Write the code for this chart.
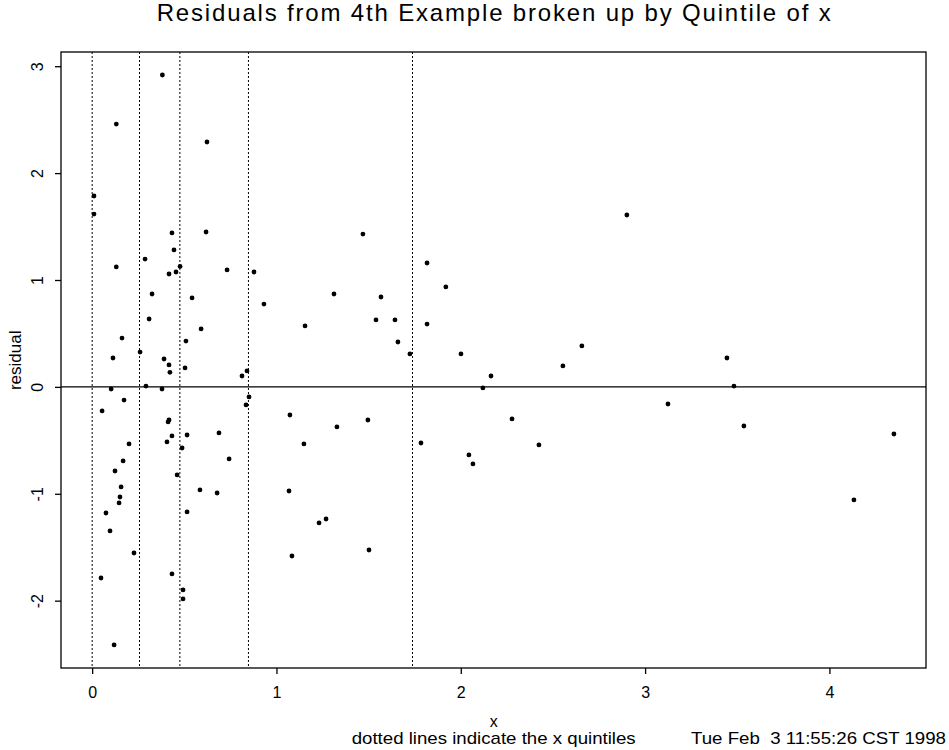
<!DOCTYPE html>
<html>
<head>
<meta charset="utf-8">
<script src="https://cdn.jsdelivr.net/npm/d3@7"></script>
<style>
  body { margin: 0; background: #fff; }
  text { font-family: 'Liberation Sans', Arial, Helvetica, sans-serif; fill: #000; }
</style>
</head>
<body>
<div id="chart-1"></div>
<script>
// x value of each point
let xValues = [
  0.381, 0.131, 0.623, 0.010, 0.010, 0.433, 0.618, 0.444, 0.287, 0.131,
  0.477, 0.455, 0.417, 0.732, 0.878, 0.325, 0.542, 0.309, 0.591, 0.162,
  0.509, 0.260, 0.113, 0.390, 0.417, 0.504, 0.422, 0.813, 0.840, 0.103,
  0.292, 0.379, 0.851, 0.173, 0.835, 0.054, 0.417, 0.412, 0.433, 0.515,
  0.688, 0.200, 0.406, 0.488, 0.168, 0.743, 0.124, 0.461, 0.157, 0.585,
  0.678, 0.151, 0.146, 0.075, 0.515, 0.097, 0.227, 0.048, 0.433, 0.493,
  0.493, 0.119, 1.469, 1.817, 1.919, 1.312, 1.567, 0.932, 1.155, 1.540,
  1.643, 1.817, 1.659, 1.724, 2.001, 1.073, 1.496, 1.328, 1.149, 1.784,
  2.044, 2.066, 1.068, 1.231, 1.269, 1.084, 1.502, 2.901, 2.657, 2.554,
  2.164, 2.120, 2.278, 2.424, 3.124, 3.444, 3.482, 3.536, 4.133, 4.350
]

// matching residuals
let residuals = [
  2.918, 2.459, 2.291, 1.786, 1.617, 1.440, 1.449, 1.281, 1.196, 1.122,
  1.127, 1.075, 1.056, 1.094, 1.075, 0.869, 0.832, 0.635, 0.542, 0.457,
  0.429, 0.326, 0.270, 0.261, 0.205, 0.177, 0.136, 0.102, 0.149, -0.020,
  0.008, -0.020, -0.094, -0.123, -0.169, -0.225, -0.310, -0.328, -0.459, -0.450,
  -0.431, -0.534, -0.515, -0.572, -0.693, -0.674, -0.787, -0.824, -0.936, -0.964,
  -0.993, -1.030, -1.086, -1.180, -1.170, -1.348, -1.554, -1.788, -1.750, -1.900,
  -1.984, -2.414, 1.430, 1.159, 0.935, 0.869, 0.841, 0.775, 0.570, 0.626,
  0.626, 0.588, 0.420, 0.308, 0.308, -0.263, -0.310, -0.375, -0.534, -0.525,
  -0.637, -0.721, -0.974, -1.273, -1.236, -1.582, -1.526, 1.608, 0.383, 0.196,
  0.102, -0.010, -0.300, -0.543, -0.160, 0.270, 0.008, -0.366, -1.058, -0.441
]

let quintiles = [0.0, 0.257, 0.476, 0.848, 1.738]
let xTicks = [0, 1, 2, 3, 4]
let yTicks = [-2, -1, 0, 1, 2, 3]

let titleText = 'Residuals from 4th Example broken up by Quintile of x'
let xLabel = 'x'
let yLabel = 'residual'
let footNote = 'dotted lines indicate the x quintiles'
let stamp = 'Tue Feb  3 11:55:26 CST 1998'

let margin = { top: 52, left: 61, right: 23, bottom: 82 }

let height = 750 - margin.top - margin.bottom
let width = 949 - margin.left - margin.right

let root = d3
  .select('#chart-1')
  .append('svg')
  .attr('height', height + margin.top + margin.bottom)
  .attr('width', width + margin.left + margin.right)

let svg = root
  .append('g')
  .attr('transform', 'translate(' + margin.left + ',' + margin.top + ')')

var xPositionScale = d3
  .scaleLinear()
  .range([0, width])
  .domain([-0.169, 4.524])
var yPositionScale = d3
  .scaleLinear()
  .range([height, 0])
  .domain([-2.63, 3.133])

let datapoints = xValues.map((x, i) => ({ x: x, residual: residuals[i] }))

// box round the plot
svg
  .append('rect')
  .attr('width', width)
  .attr('height', height)
  .attr('fill', 'none')
  .attr('stroke', '#000')
  .attr('stroke-width', 1.3)

// quintile lines
svg
  .selectAll('.quintile')
  .data(quintiles)
  .enter()
  .append('line')
  .attr('class', 'quintile')
  .attr('x1', d => xPositionScale(d))
  .attr('x2', d => xPositionScale(d))
  .attr('y1', 0)
  .attr('y2', height)
  .attr('stroke', '#000')
  .attr('stroke-width', 1)
  .attr('stroke-dasharray', '2,2')

// zero line
svg
  .append('line')
  .attr('x1', 0)
  .attr('x2', width)
  .attr('y1', yPositionScale(0))
  .attr('y2', yPositionScale(0))
  .attr('stroke', '#000')
  .attr('stroke-width', 1.3)

svg
  .selectAll('circle')
  .data(datapoints)
  .enter()
  .append('circle')
  .attr('r', 2.4)
  .attr('fill', '#000')
  .attr('cx', d => xPositionScale(d.x))
  .attr('cy', d => yPositionScale(d.residual))

// axes (plain hyphen for negatives, like the original)
let xAxis = d3
  .axisBottom(xPositionScale)
  .tickValues(xTicks)
  .tickSize(6)
  .tickFormat(d => String(d))
let xg = svg
  .append('g')
  .attr('transform', 'translate(0,' + height + ')')
  .call(xAxis)
xg.select('.domain').remove()
xg.selectAll('line').attr('stroke-width', 1.3)
xg.selectAll('text')
  .attr('y', 30)
  .attr('dy', null)
  .attr('font-size', 16)
  .style('font-family', "'Liberation Sans', Arial, sans-serif")

let yAxis = d3
  .axisLeft(yPositionScale)
  .tickValues(yTicks)
  .tickSize(6)
  .tickFormat(d => String(d))
let yg = svg.append('g').call(yAxis)
yg.select('.domain').remove()
yg.selectAll('line').attr('stroke-width', 1.3)
yg.selectAll('text')
  .attr('x', null)
  .attr('dy', null)
  .attr('text-anchor', 'middle')
  .attr('transform', 'translate(-17.7,0) rotate(-90)')
  .attr('font-size', 16)
  .style('font-family', "'Liberation Sans', Arial, sans-serif")

// titles
root
  .append('text')
  .attr('x', 493.7)
  .attr('y', 20.5)
  .attr('text-anchor', 'middle')
  .attr('font-size', 24)
  .attr('textLength', 674)
  .attr('lengthAdjust', 'spacing')
  .text(titleText)

root
  .append('text')
  .attr('x', 493.7)
  .attr('y', 727)
  .attr('text-anchor', 'middle')
  .attr('font-size', 16)
  .text(xLabel)

root
  .append('text')
  .attr('transform', 'translate(20.5,360.3) rotate(-90)')
  .attr('text-anchor', 'middle')
  .attr('font-size', 17)
  .text(yLabel)

root
  .append('text')
  .attr('x', 493.7)
  .attr('y', 744)
  .attr('text-anchor', 'middle')
  .attr('font-size', 17)
  .attr('textLength', 284)
  .attr('lengthAdjust', 'spacingAndGlyphs')
  .text(footNote)

root
  .append('text')
  .attr('x', 946)
  .attr('y', 744)
  .attr('text-anchor', 'end')
  .attr('font-size', 17)
  .attr('textLength', 255)
  .attr('lengthAdjust', 'spacingAndGlyphs')
  .style('white-space', 'pre')
  .text(stamp)
</script>
</body>
</html>
